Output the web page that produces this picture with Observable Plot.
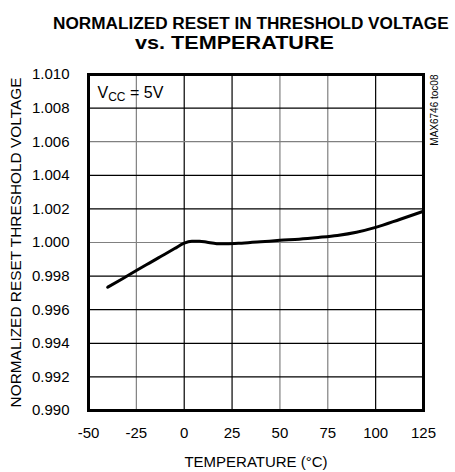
<!DOCTYPE html>
<html>
<head>
<meta charset="utf-8">
<script src="https://cdn.jsdelivr.net/npm/d3@7"></script>
<script src="https://cdn.jsdelivr.net/npm/@observablehq/plot@0.6"></script>
<style>
  body { margin: 0; background: #fff; }
  svg { display: block; }
  #title text { font-family: "Liberation Sans", Arial, sans-serif; font-weight: bold; fill: #000; }
</style>
</head>
<body>
<div id="chart"></div>
<script>
// ---- data ----
const titleLine1 = "NORMALIZED RESET IN THRESHOLD VOLTAGE";
const titleLine2 = "vs. TEMPERATURE";
const xLabel = "TEMPERATURE (°C)";
const yLabel = "NORMALIZED RESET THRESHOLD VOLTAGE";
const conditionLabel = "VCC = 5V";
const noteLabel = "MAX6746 toc08";

const xTicks = [-50, -25, 0, 25, 50, 75, 100, 125];
const yTicks = [0.990, 0.992, 0.994, 0.996, 0.998, 1.000, 1.002, 1.004, 1.006, 1.008, 1.010];
const gridXDark = [0, 25, 100];
const gridXGray = [-25, 50, 75];
const gridYDark = [0.992, 0.994, 0.996, 0.998, 1.002, 1.004, 1.008];
const gridYGray = [1.000, 1.006];

const temps = [-40, -32, -25, -18, -12.5, -5, 0, 4, 8, 12, 17, 22, 30, 40, 50, 60, 70, 80, 90, 100, 112.5, 125];
const values = [0.99734, 0.99786, 0.99833, 0.99879, 0.99915, 0.99964, 0.99996, 1.00007, 1.00008, 1.00001, 0.99993, 0.99992, 0.99996, 1.00004, 1.00013, 1.00020, 1.00030, 1.00042, 1.00061, 1.00090, 1.00137, 1.00186];

const data = temps.map((t, i) => ({t, v: values[i]}));

// ---- title ----
const ns = "http://www.w3.org/2000/svg";
const tsvg = document.createElementNS(ns, "svg");
tsvg.setAttribute("id", "title");
tsvg.setAttribute("width", 455);
tsvg.setAttribute("height", 56);
const t1 = document.createElementNS(ns, "text");
t1.setAttribute("x", 53); t1.setAttribute("y", 29);
t1.setAttribute("font-size", 17.2);
t1.textContent = titleLine1;
const t2 = document.createElementNS(ns, "text");
t2.setAttribute("x", 135); t2.setAttribute("y", 49);
t2.setAttribute("font-size", 18);
t2.setAttribute("textLength", 199);
t2.setAttribute("lengthAdjust", "spacingAndGlyphs");
t2.textContent = titleLine2;
tsvg.appendChild(t1); tsvg.appendChild(t2);

// ---- plot ----
const plot = Plot.plot({
  width: 455,
  height: 416,
  marginTop: 18,
  marginBottom: 62,
  marginLeft: 88,
  marginRight: 32,
  style: {fontFamily: "'Liberation Sans', Arial, sans-serif", fontSize: "15px", color: "#000", background: "#fff"},
  x: {domain: [-50, 125], ticks: xTicks, tickFormat: d => String(d), tickSize: 0, tickPadding: 17, label: xLabel, labelAnchor: "center", labelOffset: 56, labelArrow: "none"},
  y: {domain: [0.990, 1.010], ticks: yTicks, tickFormat: d3.format(".3f"), tickSize: 0, tickPadding: 19, label: yLabel, labelAnchor: "center", labelOffset: 78, labelArrow: "none"},
  marks: [
    Plot.ruleX(gridXGray, {stroke: "#808080", strokeWidth: 1.2}),
    Plot.ruleX(gridXDark, {stroke: "#000", strokeWidth: 1.2}),
    Plot.ruleY(gridYGray, {stroke: "#808080", strokeWidth: 1.2}),
    Plot.ruleY(gridYDark, {stroke: "#000", strokeWidth: 1.2}),
    Plot.line(data, {x: "t", y: "v", stroke: "#000", strokeWidth: 3, curve: "monotone-x"}),
    Plot.frame({stroke: "#000", strokeWidth: 3}),
    Plot.text([conditionLabel], {frameAnchor: "top-left", dx: 9, dy: 23, textAnchor: "start", lineAnchor: "bottom", fontSize: 16}),
    Plot.text([noteLabel], {frameAnchor: "top-right", dx: 11, dy: 0, rotate: -90, textAnchor: "end", lineAnchor: "middle", fontSize: 10})
  ]
});

// subscript for VCC
d3.select(plot).selectAll("text").filter(function () { return this.textContent === conditionLabel; })
  .each(function () {
    const el = d3.select(this);
    el.text(null);
    el.append("tspan").text("V");
    el.append("tspan").attr("font-size", 12).attr("dy", 3).text("CC");
    el.append("tspan").attr("dy", -3).text(" = 5V");
  });
// slightly larger y-axis title
d3.select(plot).selectAll("text").filter(function () { return this.textContent === yLabel; })
  .attr("font-size", 15.4);

const chart = document.getElementById("chart");
chart.appendChild(tsvg);
chart.appendChild(plot);
</script>
</body>
</html>
